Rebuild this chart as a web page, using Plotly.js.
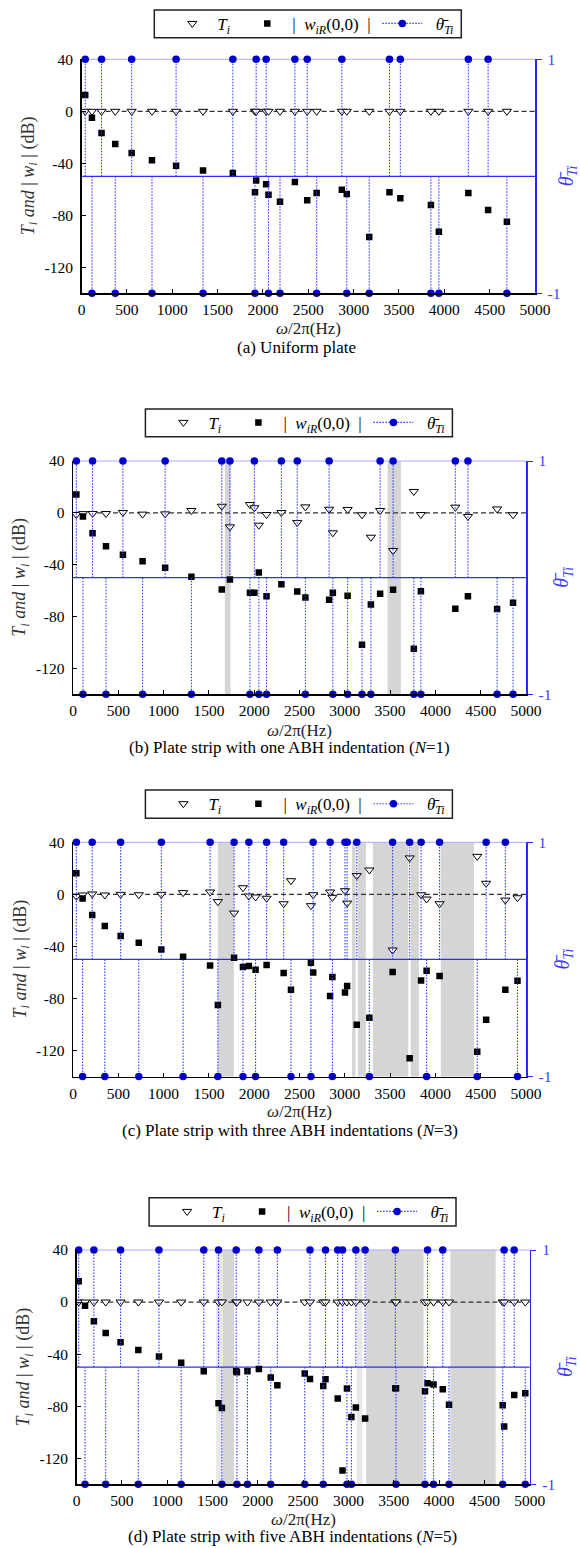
<!DOCTYPE html>
<html><head><meta charset="utf-8">
<script src="https://cdn.plot.ly/plotly-3.0.1.min.js"></script>
<style>html,body{margin:0;padding:0;background:#fff}#chart{width:580px;height:1548px}</style>
</head><body><div id="chart"></div>
<script>
// ---------- data ----------
// (a) Uniform plate
const freqA  = [40,114,220,371,552,776,1042,1339,1668,1912,1925,2035,2061,2188,2352,2488,2592,2870,2924,3172,3395,3515,3852,3940,4265,4483,4690];
const thetaA = [1,-1,1,-1,1,-1,1,-1,1,-1,1,1,-1,-1,1,1,-1,1,-1,-1,1,1,-1,-1,1,1,-1];
const tA     = [0,0,0,0,0,0,0,0,0,0,0,0,0,0,0,0,0,0,0,0,0,0,0,0,0,0,0];
const wA     = [12.6,-4.9,-16.7,-25.1,-32,-37.7,-41.8,-45.6,-47.4,-62.3,-53.3,-56.2,-64.1,-69.5,-54.4,-68.5,-62.8,-60.3,-63.6,-96.7,-62.3,-66.9,-72,-92.6,-62.8,-75.9,-84.9];
const bandLoA = [];
const bandHiA = [];

// (b) one ABH indentation
const freqB  = [37,110,216,364,551,768,1017,1307,1642,1732,1953,2002,2051,2136,2300,2475,2565,2827,2868,3031,3190,3288,3390,3533,3762,3840,4220,4359,4681,4857];
const thetaB = [1,-1,1,-1,1,-1,1,-1,1,1,-1,1,-1,-1,1,1,-1,1,-1,-1,-1,-1,1,1,-1,-1,1,1,-1,-1];
const tB     = [-1.3,-0.6,-0.5,-0.5,0.3,-1,-0.8,1.8,5.1,-10.8,6.4,3.9,-9.5,-1.3,0.3,-7.5,4.6,2.8,-15.4,2.6,-1.5,-18.8,1.8,-29.1,16.5,-1.3,4.4,-2.8,3,-1.5];
const wB     = [14.1,-2.8,-15.7,-25.7,-32.4,-37.3,-42.4,-49.4,-59.1,-51.4,-61.7,-61.7,-46,-64.3,-55,-60.7,-65.3,-67.1,-61.7,-64,-101.8,-70.7,-62.5,-59.4,-104.9,-60.4,-74,-64.3,-74.2,-69.3];
const bandLoB = [1676,3472];
const bandHiB = [1739,3619];

// (c) three ABH indentations
const freqC  = [37,106,212,351,526,726,975,1215,1513,1599,1778,1876,1941,2015,2137,2325,2406,2626,2651,2838,2863,3002,3026,3132,3271,3528,3716,3842,3903,4046,4462,4560,4772,4906];
const thetaC = [1,-1,1,-1,1,-1,1,-1,1,-1,1,-1,1,-1,1,1,-1,-1,1,1,-1,1,1,1,-1,1,1,1,-1,1,-1,1,1,-1];
const tC     = [-1.5,-0.5,0.3,-0.5,0,-0.3,0,1.3,1.8,-5.6,-14.4,5.1,-1.3,-2,-3,-7.2,10.5,-8.7,-0.3,1.8,-2.3,2.8,-6.7,14.4,18.7,-42.8,28,-0.3,-3.6,-7.2,29.2,8.5,-4.4,-2.6];
const wC     = [16.2,-3.1,-15.9,-24.4,-32,-37.2,-42.3,-48,-54.6,-85.1,-48.7,-55.9,-55.1,-58,-54.4,-60.5,-73.3,-52.6,-60,-78.2,-63.6,-75.4,-70.5,-100.3,-94.9,-59.7,-125.9,-66.2,-58.7,-62.8,-121,-96.4,-73.3,-66.4];
const bandLoC = [1599,3080,3145,3310,3728,4060];
const bandHiC = [1776,3118,3232,3700,3818,4426];

// (d) five ABH indentations
const freqD  = [24,94,192,322,486,682,910,1155,1404,1567,1604,1762,1770,1886,2012,2143,2216,2518,2576,2722,2747,2882,2935,2984,3033,3082,3184,3518,3525,3845,3873,3939,4041,4110,4702,4718,4829,4951];
const thetaD = [1,-1,1,-1,1,-1,1,-1,1,1,-1,1,-1,-1,1,-1,1,-1,1,-1,1,1,1,-1,-1,1,1,1,-1,-1,1,-1,1,-1,-1,1,1,-1];
const tD     = [0,0,0,0,0,0,0,0,0,0,0,0,0,0,0,0,0,0,0,0,0,0,0,0,0,0,0,0,0,0,0,0,0,0,0,0,0,0];
const wD     = [15.9,-2.8,-14.8,-23.7,-30.9,-36.8,-41.9,-46.7,-53.2,-77.8,-81.4,-53.2,-54,-53.2,-51.4,-58,-63.9,-55,-59.1,-64.5,-59.3,-74.2,-129.5,-66.5,-88.3,-81.1,-89.5,-66.2,-66.2,-68.5,-62.4,-63.4,-67,-79,-79.3,-95.7,-71.4,-70.1];
const bandLoD = [1610,3195,4125];
const bandHiD = [1738,3829,4625];
const faintLoD = [1540,3092];
const faintHiD = [1608,3155];

const captions = [
  '(a) Uniform plate',
  '(b) Plate strip with one ABH indentation (<i>N</i>=1)',
  '(c) Plate strip with three ABH indentations (<i>N</i>=3)',
  '(d) Plate strip with five ABH indentations (<i>N</i>=5)'
];
const legendNames = ['<i>T<sub>i</sub></i>', '|\u00a0\u00a0<i>w<sub>iR</sub></i>(0,0)\u00a0\u00a0|', '\u00a0\u00a0<i>θ̄</i><sub><i>Ti</i></sub>'];
const xTickVals = [0,500,1000,1500,2000,2500,3000,3500,4000,4500,5000];
const xTickText = ['0','500','1000','1500','2000','2500','3000','3500','4000','4500','5000'];
const yTickVals = [40,0,-40,-80,-120];
const yTickText = ['40','0','-40','-80','-120'];
const rTickVals = [-1,1];
const rTickText = ['-1','1'];

// ---------- layout geometry (pixels) ----------
const W = 580, H = 1548;
const FONT = 'Liberation Serif';
const series = [
  {f:freqA, th:thetaA, t:tA, w:wA, lo:bandLoA, hi:bandHiA, flo:[], fhi:[]},
  {f:freqB, th:thetaB, t:tB, w:wB, lo:bandLoB, hi:bandHiB, flo:[], fhi:[]},
  {f:freqC, th:thetaC, t:tC, w:wC, lo:bandLoC, hi:bandHiC, flo:[], fhi:[]},
  {f:freqD, th:thetaD, t:tD, w:wD, lo:bandLoD, hi:bandHiD, flo:faintLoD, fhi:faintHiD}
];
const geom = [
  {l:81.6, r:535,   t:59.3,  b:293.3,  bx0:154.3, bx1:461.3, by0:10,    by1:37.7,   yT:29,  rT:567, capX:296.7, capY:348,    xtY:328},
  {l:73,   r:526,   t:461,   b:694.3,  bx0:145.4, bx1:452.4, by0:409,   by1:436.7,  yT:21,  rT:563, capX:289,   capY:747.7,  xtY:730},
  {l:73,   r:526,   t:842.3, b:1076.5, bx0:145.4, bx1:452.4, by0:790,   by1:818.3,  yT:21,  rT:563, capX:289.5, capY:1130,   xtY:1111.7},
  {l:76.5, r:529.7, t:1250,  b:1484.2, bx0:149.1, bx1:456,   by0:1197.7,by1:1226,   yT:24.5,rT:566, capX:292.6, capY:1536.7, xtY:1519.3}
];
const px = v => v / W;
const py = v => 1 - v / H;

const traces = [];
const layout = {
  width: W, height: H,
  margin: {l:0, r:0, t:0, b:0},
  paper_bgcolor: 'white', plot_bgcolor: 'rgba(0,0,0,0)',
  showlegend: true,
  shapes: [], annotations: [],
  font: {family: FONT, color: 'black', size: 15}
};

const STEM = 'rgb(55,55,255)';
const DOT = 'rgb(0,0,205)';

series.forEach((s, i) => {
  const g = geom[i];
  const n = i + 1;
  const xa = n === 1 ? 'x' : 'x' + n;
  const yLn = 2 * n - 1, yRn = 2 * n;
  const yL = yLn === 1 ? 'y' : 'y' + yLn;
  const yR = 'y' + yRn;
  const leg = n === 1 ? 'legend' : 'legend' + n;

  layout[n === 1 ? 'xaxis' : 'xaxis' + n] = {
    domain: [px(g.l), px(g.r)], anchor: yL, range: [0, 5000],
    tickvals: xTickVals, ticktext: xTickText, ticks: 'inside', ticklen: 4, tickwidth: 1, tickcolor: 'black',
    showline: true, linecolor: 'black', linewidth: 1.5, showgrid: false, zeroline: false,
    tickfont: {family: FONT, size: 15.5, color: 'black'}, ticklabelstandoff: 2, fixedrange: true
  };
  layout['yaxis' + (yLn === 1 ? '' : yLn)] = {
    domain: [py(g.b), py(g.t)], anchor: xa, range: [-140, 40],
    tickvals: yTickVals, ticktext: yTickText, ticks: 'inside', ticklen: 4, tickcolor: 'black',
    showline: true, linecolor: 'black', linewidth: 1.5, showgrid: false, zeroline: false,
    tickfont: {family: FONT, size: 15.5, color: 'black'}, ticklabelstandoff: 4, fixedrange: true
  };
  layout['yaxis' + yRn] = {
    overlaying: yL, anchor: xa, side: 'right', range: [-1, 1],
    tickvals: rTickVals, ticktext: rTickText, ticks: 'outside', ticklen: 5, tickcolor: 'rgb(40,40,255)',
    showline: true, linecolor: 'rgb(40,40,255)', linewidth: 1.5, showgrid: false, zeroline: false,
    tickfont: {family: FONT, size: 15.5, color: 'rgb(60,60,255)'}, ticklabelstandoff: 3, fixedrange: true
  };

  // legend frame drawn as a paper rectangle, legend items placed inside
  layout.shapes.push({type:'rect', xref:'paper', yref:'paper', x0: px(g.bx0), x1: px(g.bx1), y0: py(g.by1), y1: py(g.by0),
    fillcolor: 'white', line: {color: '#222', width: 1.5}, layer: 'above'});
  layout[leg] = {
    x: px(g.bx0 + 13), y: py((g.by0 + g.by1) / 2), xanchor: 'left', yanchor: 'middle', orientation: 'h',
    bgcolor: 'rgba(0,0,0,0)', borderwidth: 0,
    font: {family: FONT, size: 17, color: 'black'}, itemwidth: 40, traceorder: 'normal'
  };

  // shaded bands
  s.lo.forEach((lo, k) => {
    layout.shapes.push({type:'rect', xref: xa, yref: yL + ' domain', x0: lo, x1: s.hi[k], y0: 0, y1: 1,
      fillcolor: '#d5d5d5', line: {width: 0}, layer: 'below'});
  });
  s.flo.forEach((lo, k) => {
    layout.shapes.push({type:'rect', xref: xa, yref: yL + ' domain', x0: lo, x1: s.fhi[k], y0: 0, y1: 1,
      fillcolor: '#e8e8e8', line: {width: 0}, layer: 'below'});
  });
  // reference lines
  layout.shapes.push({type:'line', xref: xa + ' domain', x0: 0, x1: 1, yref: yL, y0: 0, y1: 0,
    line: {color: '#333', width: 1.2, dash: '5px,3px'}, layer: 'below'});
  layout.shapes.push({type:'line', xref: xa + ' domain', x0: 0, x1: 1, yref: yR, y0: 0, y1: 0,
    line: {color: 'rgb(45,45,255)', width: 1.3}, layer: 'below'});
  layout.shapes.push({type:'line', xref: xa + ' domain', x0: 0, x1: 1, yref: yL + ' domain', y0: 1, y1: 1,
    line: {color: 'rgb(170,170,255)', width: 1}, layer: 'below'});

  // stems
  const sx = [], sy = [];
  s.f.forEach((v, k) => { sx.push(v, v, null); sy.push(0, s.th[k], null); });
  traces.push({x: sx, y: sy, xaxis: xa, yaxis: yR, mode: 'lines', showlegend: false, hoverinfo: 'skip',
    line: {color: STEM, width: 1.1, dash: '1.5px,1.5px'}});
  traces.push({x: s.f, y: s.th, xaxis: xa, yaxis: yR, mode: 'markers', showlegend: false, cliponaxis: false,
    marker: {symbol: 'circle', size: 7.5, color: DOT}});
  // T_i
  traces.push({x: s.f, y: s.t, xaxis: xa, yaxis: yL, mode: 'markers', name: legendNames[0],
    legend: leg, legendrank: 1, legendwidth: 20,
    marker: {symbol: 'triangle-down', size: 8, color: 'white', line: {color: 'black', width: 1}}});
  // |w|
  traces.push({x: s.f, y: s.w, xaxis: xa, yaxis: yL, mode: 'markers', name: legendNames[1],
    legend: leg, legendrank: 2, legendwidth: 80,
    marker: {symbol: 'square', size: 6.5, color: 'black'}});
  // theta legend entry
  traces.push({x: [null], y: [null], xaxis: xa, yaxis: yR, mode: 'lines+markers', name: legendNames[2],
    legend: leg, legendrank: 3, legendwidth: 30,
    line: {color: STEM, width: 1.1, dash: '1.5px,1.5px'}, marker: {symbol: 'circle', size: 7.5, color: DOT}});

  // annotations
  layout.annotations.push({xref:'paper', yref:'paper', x: px(g.capX), y: py(g.capY), text: captions[i],
    showarrow: false, xanchor: 'center', yanchor: 'middle', font: {family: FONT, size: 17, color: 'black'}});
  layout.annotations.push({xref:'paper', yref:'paper', x: px((g.l + g.r) / 2), y: py(g.xtY), text: '<i>ω</i>/2π(Hz)',
    showarrow: false, xanchor: 'center', yanchor: 'middle', font: {family: FONT, size: 17, color: '#222'}});
  layout.annotations.push({xref:'paper', yref:'paper', x: px(g.yT), y: py((g.t + g.b) / 2),
    text: '<i>T<sub>i</sub> and</i> | <i>w<sub>i</sub></i> | (dB)', textangle: -90,
    showarrow: false, xanchor: 'center', yanchor: 'middle', font: {family: FONT, size: 18, color: '#333'}});
  layout.annotations.push({xref:'paper', yref:'paper', x: px(g.rT), y: py((g.t + g.b) / 2),
    text: '<i>θ̄</i><sub><i>Ti</i></sub>', textangle: -90,
    showarrow: false, xanchor: 'center', yanchor: 'middle', font: {family: FONT, size: 20, color: 'rgb(60,60,255)'}});
});

Plotly.newPlot('chart', traces, layout, {staticPlot: true, displayModeBar: false});
</script>
</body></html>
